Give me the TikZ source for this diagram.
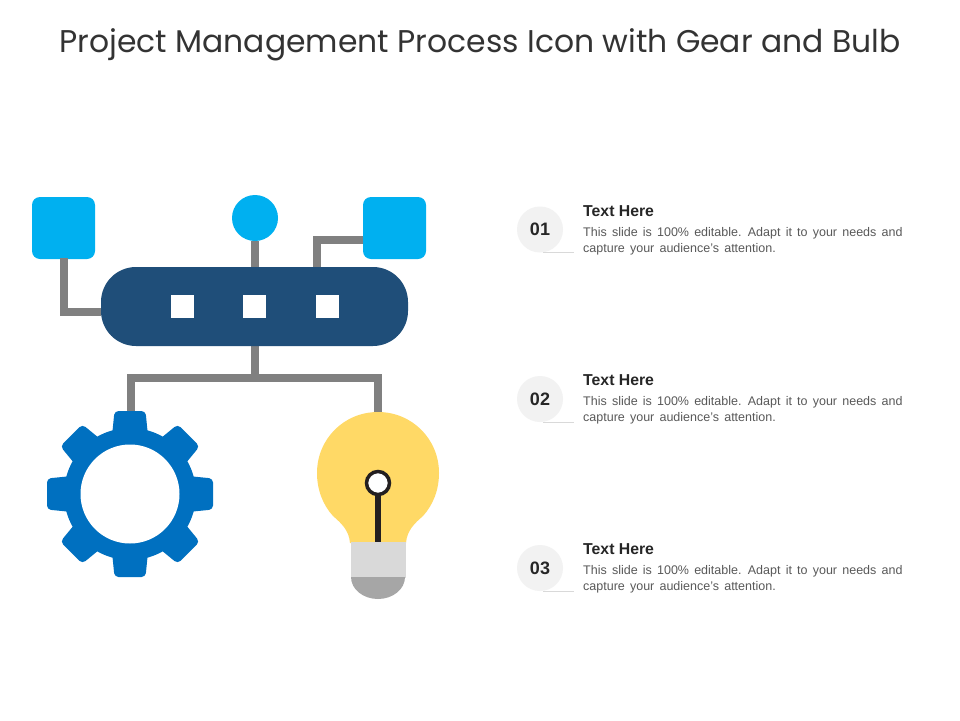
\documentclass[tikz,border=0pt]{standalone}
\usepackage{fontspec}
\setmainfont{Liberation Sans}
\newfontfamily\titlefont{Poppins}
\definecolor{skyb}{HTML}{00B0F0}
\definecolor{navyb}{HTML}{1F4E79}
\definecolor{gearb}{HTML}{0070C0}
\definecolor{linkg}{HTML}{808080}
\definecolor{bulby}{HTML}{FFD966}
\definecolor{capl}{HTML}{D9D9D9}
\definecolor{capd}{HTML}{A6A6A6}
\definecolor{inkd}{HTML}{231F20}
\definecolor{badge}{HTML}{F2F2F2}
\tikzset{
  sqbox/.style={fill=skyb,rounded corners=8pt,minimum width=63pt,minimum height=62pt,inner sep=0},
  portbox/.style={fill=white,minimum size=23pt,inner sep=0},
  link/.style={draw=linkg,line width=8pt},
  badgenode/.style={circle,fill=badge,minimum size=46pt,inner sep=0,font=\fontsize{18}{20}\selectfont\bfseries,text=black!85},
  headnode/.style={anchor=base west,inner sep=0,font=\fontsize{15.8}{18}\selectfont\bfseries,text=black!85},
  bodynode/.style={anchor=north west,inner sep=0,text width=318pt,align=justify,font=\fontsize{12.5}{16}\selectfont,text=black!65},
  rulelink/.style={draw=black!15,line width=0.6pt}
}
\begin{document}
\begin{tikzpicture}[x=1pt,y=-1pt]
\useasboundingbox (0,0) rectangle (960,720);
\fill[white] (0,0) rectangle (960,720);
\node[anchor=base,inner sep=0,font=\titlefont\fontsize{31.4}{36}\selectfont,text=black!80] (title) at (480,52) {Project Management Process Icon with Gear and Bulb};
% anchors
\coordinate (pl) at (101,312);
\coordinate (pr) at (317,267);
\coordinate (sr) at (363,240);
\coordinate (gearc) at (130,494);
\coordinate (geartop) at (131,414);
\coordinate (bulbtop) at (378,414);
\coordinate (bar) at (255,378);
% blue end shapes
\node[sqbox] (sq1) at (63.5,228) {};
\node[sqbox] (sq3) at (394.5,228) {};
\node[circle,fill=skyb,minimum size=46pt,inner sep=0] (dot) at (255,218) {};
% links
\draw[link] (sq1.south) ++(0,-1) -- (63.5,312) -- (pl);
\draw[link] (pr) -- (317,240) -- (sr);
\draw[link] (dot.south) -- (255,270);
\draw[link] (255,343) -- (bar);
\draw[link] (geartop) -- (131,378) -- (378,378) -- (bulbtop);
% hub
\node[fill=navyb,rounded corners=35pt,minimum width=307pt,minimum height=79pt,inner sep=0] (hub) at (254.5,306.5) {};
\node[portbox] (p1) at (182.5,306.5) {};
\node[portbox] (p2) at (254.5,306.5) {};
\node[portbox] (p3) at (327.5,306.5) {};
% gear
\fill[gearb] (gearc) circle (66);
\foreach \a in {0,45,...,315}{
  \fill[gearb,rotate around={\a:(gearc)},rounded corners=4pt]
    (112,436) -- (114.5,411) -- (145.5,411) -- (148,436) -- cycle;
}
\fill[white] (gearc) circle (49.5);
% bulb
\fill[bulby] (350,543) .. controls (349,530) and (341,523) .. (333,516)
  .. controls (323,505) and (317,490) .. (317,473)
  .. controls (317,439) and (344,412) .. (378,412)
  .. controls (412,412) and (439,439) .. (439,473)
  .. controls (439,490) and (433,505) .. (423,516)
  .. controls (415,523) and (407,530) .. (406,543) -- cycle;
\fill[capl] (350.5,542) rectangle (406,578);
\fill[capd] (351,577) -- (405,577) arc[start angle=0,end angle=180,x radius=27,y radius=22] -- cycle;
\draw[inkd,line width=6pt] (378,493) -- (378,541.5);
\node[circle,draw=inkd,line width=3.5pt,fill=white,minimum size=23pt,inner sep=0] (fil) at (378,483) {};
% items
\foreach \n/\num/\yy in {a/01/0,b/02/169.5,c/03/338.5}{
  \node[badgenode] (badge\n) at (540,229.5+\yy) {\num};
  \coordinate (rs\n) at (543,252.5+\yy);
  \coordinate (re\n) at (574,252.5+\yy);
  \draw[rulelink] (rs\n) -- (re\n);
  \node[headnode] (head\n) at (583,216+\yy) {Text Here};
  \node[bodynode] (body\n) at (583,227+\yy) {\spaceskip=5.2pt plus 5pt\relax\makebox[318pt][s]{This slide is 100\% editable. Adapt it to your needs and}\\capture your audience's attention.};
}
\end{tikzpicture}
\end{document}
